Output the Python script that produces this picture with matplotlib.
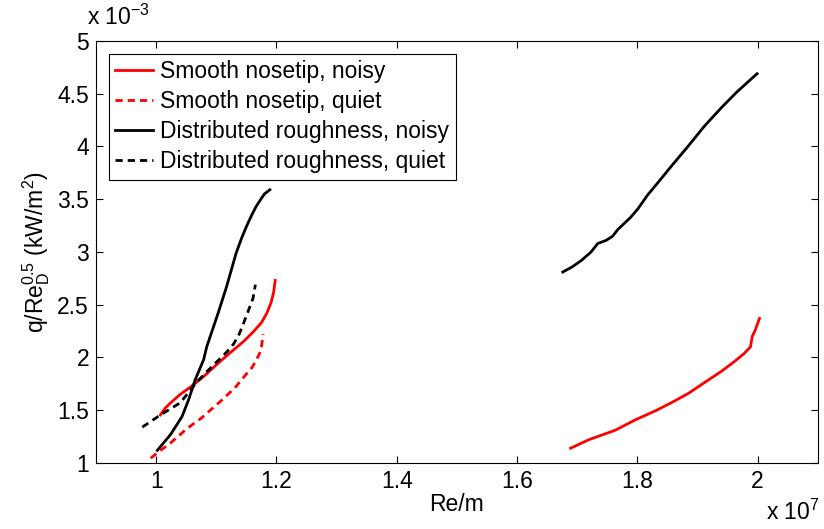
import numpy as np
import matplotlib
matplotlib.use("Agg")
import matplotlib.pyplot as plt
from matplotlib.ticker import FuncFormatter, FixedLocator

plt.rcParams['font.family'] = ['Liberation Sans', 'DejaVu Sans']
plt.rcParams['mathtext.fontset'] = 'custom'
plt.rcParams['mathtext.rm'] = 'Liberation Sans'
plt.rcParams['mathtext.it'] = 'Liberation Sans'
plt.rcParams['mathtext.bf'] = 'Liberation Sans:bold'

XSCALE = 1e7
YSCALE = 1e-3

# Data (x in units of 1e7 Re/m, y in units of 1e-3)
smooth_noisy_left_x = [1.007, 1.015, 1.024, 1.040, 1.057, 1.079, 1.100, 1.122, 1.145, 1.161, 1.175, 1.184, 1.191, 1.195, 1.198]
smooth_noisy_left_y = [1.455, 1.52, 1.57, 1.65, 1.72, 1.82, 1.93, 2.04, 2.15, 2.24, 2.33, 2.42, 2.52, 2.61, 2.73]
smooth_noisy_right_x = [1.689, 1.719, 1.763, 1.797, 1.832, 1.856, 1.885, 1.911, 1.940, 1.961, 1.978, 1.988, 1.991, 1.996, 2.003]
smooth_noisy_right_y = [1.14, 1.22, 1.31, 1.41, 1.50, 1.57, 1.66, 1.76, 1.87, 1.96, 2.04, 2.10, 2.20, 2.26, 2.37]

smooth_quiet_x = [0.991, 1.005, 1.024, 1.052, 1.074, 1.092, 1.112, 1.132, 1.151, 1.160, 1.167, 1.172, 1.175, 1.178]
smooth_quiet_y = [1.045, 1.11, 1.19, 1.33, 1.42, 1.51, 1.61, 1.72, 1.85, 1.91, 1.98, 2.04, 2.10, 2.22]

rough_noisy_left_x = [1.002, 1.024, 1.043, 1.054, 1.065, 1.079, 1.084, 1.103, 1.117, 1.133, 1.142, 1.150, 1.158, 1.166, 1.174, 1.180, 1.189]
rough_noisy_left_y = [1.12, 1.27, 1.44, 1.60, 1.79, 1.98, 2.10, 2.42, 2.67, 2.99, 3.13, 3.24, 3.34, 3.43, 3.50, 3.55, 3.59]
rough_noisy_right_x = [1.676, 1.692, 1.707, 1.723, 1.734, 1.748, 1.759, 1.767, 1.789, 1.801, 1.817, 1.836, 1.856, 1.884, 1.911, 1.940, 1.966, 1.999]
rough_noisy_right_y = [2.81, 2.86, 2.92, 3.00, 3.08, 3.11, 3.15, 3.21, 3.33, 3.41, 3.54, 3.67, 3.81, 4.00, 4.19, 4.37, 4.52, 4.69]

rough_quiet_x = [0.977, 1.007, 1.040, 1.068, 1.085, 1.101, 1.117, 1.129, 1.138, 1.145, 1.153, 1.161, 1.165]
rough_quiet_y = [1.34, 1.455, 1.57, 1.77, 1.87, 1.96, 2.05, 2.13, 2.22, 2.32, 2.44, 2.56, 2.69]

labels = ['Smooth nosetip, noisy', 'Smooth nosetip, quiet',
          'Distributed roughness, noisy', 'Distributed roughness, quiet']
x_ticks = [1.0, 1.2, 1.4, 1.6, 1.8, 2.0]
y_ticks = [1, 1.5, 2, 2.5, 3, 3.5, 4, 4.5, 5]

def sx(v):
    return np.array(v) * XSCALE

def sy(v):
    return np.array(v) * YSCALE

FS = 16.5
fig = plt.figure(figsize=(8.24, 5.29), dpi=100)
ax = fig.add_axes([0.1165, 0.1248, 0.876, 0.7977])

lw = 2.0
dash = (0, (2.6, 1.8))
l1, = ax.plot(sx(smooth_noisy_left_x), sy(smooth_noisy_left_y), color='red', lw=lw, label=labels[0])
ax.plot(sx(smooth_noisy_right_x), sy(smooth_noisy_right_y), color='red', lw=lw)
l2, = ax.plot(sx(smooth_quiet_x), sy(smooth_quiet_y), color='red', lw=lw, ls=dash, label=labels[1])
l3, = ax.plot(sx(rough_noisy_left_x), sy(rough_noisy_left_y), color='black', lw=lw, label=labels[2])
ax.plot(sx(rough_noisy_right_x), sy(rough_noisy_right_y), color='black', lw=lw)
l4, = ax.plot(sx(rough_quiet_x), sy(rough_quiet_y), color='black', lw=lw, ls=dash, label=labels[3])

ax.set_xlim(0.9 * XSCALE, 2.1 * XSCALE)
ax.set_ylim(1 * YSCALE, 5 * YSCALE)
ax.xaxis.set_major_locator(FixedLocator(sx(x_ticks)))
ax.yaxis.set_major_locator(FixedLocator(sy(y_ticks)))
ax.xaxis.set_major_formatter(FuncFormatter(lambda v, p: f'{v / XSCALE:g}'))
ax.yaxis.set_major_formatter(FuncFormatter(lambda v, p: f'{v / YSCALE:g}'))
ax.tick_params(direction='in', length=5, width=0.8, labelsize=FS, top=True, right=True, pad=5)
for s in ax.spines.values():
    s.set_linewidth(0.8)

ax.set_xlabel('Re/m', fontsize=FS, labelpad=0)
ax.set_ylabel(r'q/Re$_D^{0.5}$ (kW/m$^2$)', fontsize=FS, labelpad=4)

fig.text(0.106, 0.943, r'x 10$^{-3}$', fontsize=FS, ha='left', va='bottom')
fig.text(0.930, 0.008, r'x 10$^{7}$', fontsize=FS, ha='left', va='bottom')

leg = ax.legend(handles=[l1, l2, l3, l4], loc='upper left', fontsize=FS,
                frameon=True, fancybox=False, edgecolor='black', framealpha=1,
                handlelength=1.65, handletextpad=0.28, borderpad=0.3, labelspacing=0.3,
                borderaxespad=0.55)
leg.get_frame().set_linewidth(0.8)

fig.savefig('out.png', dpi=100)
